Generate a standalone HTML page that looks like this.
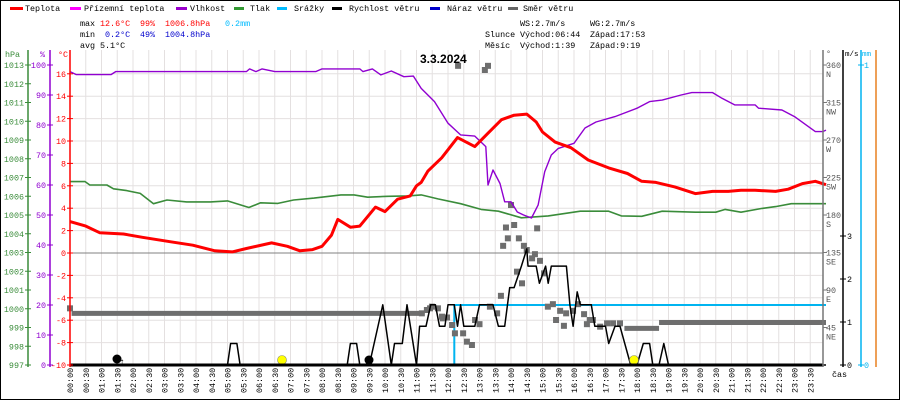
<!DOCTYPE html>
<html><head><meta charset="utf-8">
<style>
html,body{margin:0;padding:0;background:#fff;}
svg{display:block;font-family:"Liberation Mono",monospace;}
</style></head>
<body>
<svg id="chart" width="900" height="400" viewBox="0 0 900 400" xmlns="http://www.w3.org/2000/svg">
<rect x="0.5" y="0.5" width="899" height="399" fill="#fff" stroke="#000"/>
<g id="grid"></g>
<g id="series"></g>
<g id="axes"></g>
<g id="legend" font-size="8.4">
  <g><rect x="10" y="7" width="13" height="3" fill="#f00"/><text x="25" y="11">Teplota</text></g>
  <g><rect x="70" y="7" width="11" height="3" fill="#f0f"/><text x="84" y="11">Přízemní teplota</text></g>
  <g><rect x="176" y="7" width="11" height="3" fill="#90c"/><text x="190" y="11">Vlhkost</text></g>
  <g><rect x="234" y="7" width="10" height="3" fill="#393"/><text x="250" y="11">Tlak</text></g>
  <g><rect x="277" y="7" width="10" height="3" fill="#0bf"/><text x="294" y="11">Srážky</text></g>
  <g><rect x="332" y="7" width="10" height="3" fill="#000"/><text x="349" y="11">Rychlost větru</text></g>
  <g><rect x="430" y="7" width="10" height="3" fill="#00c"/><text x="447" y="11">Náraz větru</text></g>
  <g><rect x="508" y="7" width="10" height="3" fill="#666"/><text x="523" y="11">Směr větru</text></g>
</g>
<g id="stats" font-size="8.4">
  <text x="80" y="26">max</text><text x="100" y="26" fill="#f00">12.6°C</text><text x="140" y="26" fill="#f00">99%</text><text x="165" y="26" fill="#f00">1006.8hPa</text><text x="225" y="26" fill="#0bf">0.2mm</text>
  <text x="80" y="37">min</text><text x="105" y="37" fill="#00c">0.2°C</text><text x="140" y="37" fill="#00c">49%</text><text x="165" y="37" fill="#00c">1004.8hPa</text>
  <text x="80" y="48">avg</text><text x="100" y="48">5.1°C</text>
  <text x="520" y="26">WS:2.7m/s</text><text x="590" y="26">WG:2.7m/s</text>
  <text x="485" y="37">Slunce</text><text x="520" y="37">Východ:06:44</text><text x="590" y="37">Západ:17:53</text>
  <text x="485" y="48">Měsíc</text><text x="520" y="48">Východ:1:39</text><text x="590" y="48">Západ:9:19</text>
</g>
<text x="420" y="63" font-size="12" font-weight="bold" font-family="Liberation Sans, sans-serif">3.3.2024</text>
</svg>
<script>
// ---- data ----
const tempTimes=[0,0.5,0.95,1.7,2.3,3.2,3.9,4.6,5.15,5.6,6.4,6.9,7.3,7.7,8.0,8.3,8.5,8.9,9.2,9.7,10.0,10.4,10.8,11.0,11.15,11.36,11.8,12.3,12.85,13.27,13.7,14.1,14.5,14.8,15.0,15.4,15.9,16.45,17.1,17.7,18.15,18.6,19.2,19.85,20.4,20.9,21.3,21.75,22.4,22.8,23.25,23.66,24];
const tempValues=[2.8,2.4,1.8,1.7,1.4,1.0,0.7,0.2,0.1,0.4,0.9,0.6,0.2,0.3,0.6,1.6,3.0,2.3,2.4,4.1,3.7,4.8,5.1,6.0,6.3,7.3,8.5,10.3,9.5,10.7,11.9,12.3,12.4,11.7,10.8,9.9,9.4,8.3,7.6,7.1,6.4,6.3,5.9,5.3,5.5,5.5,5.6,5.6,5.5,5.7,6.2,6.4,6.1];
const humTimes=[0,0.2,1.3,1.45,5.6,5.7,5.9,6.1,6.5,7.8,8.0,9.2,9.3,9.6,9.87,10.2,10.6,10.9,11.15,11.57,12.0,12.4,12.85,13.2,13.27,13.43,13.65,13.8,14.0,14.2,14.4,14.65,14.86,15.07,15.28,15.5,16.0,16.35,16.7,17.3,18.0,18.4,18.8,19.4,19.74,20.4,20.7,21.1,21.75,21.86,22.6,23.0,23.45,23.66,23.9,24];
const humValues=[97.8,96.8,96.8,97.8,97.8,98.7,97.8,98.7,97.8,97.8,98.7,98.7,97.8,98.7,96.7,98,96.1,96.3,92.2,87.8,80.6,76.7,76.3,72.8,60,65,60.5,54.4,54.4,51,50,49,53.3,64.4,70,72.2,73.9,79,81,82.8,85.6,87.8,88.3,90,90.8,90.8,88.9,86.7,86.7,85.6,85,82.8,79.4,77.8,77.8,78.3];
const presTimes=[0,0.48,0.63,1.17,1.38,1.8,2.23,2.65,3.08,3.7,4.46,5.0,5.68,6.05,6.6,7.1,7.75,8.6,9.02,9.45,10.1,10.72,11.15,11.68,12.4,13.05,13.6,14.33,15.18,16.2,17.1,17.5,18.15,18.8,19.85,20.5,20.8,21.3,21.97,22.4,22.9,24];
const presValues=[1006.78,1006.78,1006.6,1006.6,1006.4,1006.3,1006.15,1005.6,1005.8,1005.7,1005.7,1005.75,1005.4,1005.65,1005.62,1005.8,1005.9,1006.07,1006.07,1005.95,1006.0,1006.02,1006.07,1005.86,1005.6,1005.3,1005.2,1004.85,1004.95,1005.2,1005.2,1004.95,1004.93,1005.2,1005.15,1005.15,1005.3,1005.15,1005.35,1005.45,1005.6,1005.6];
const rainTimes=[0,12.2,12.2,24];
const rainValues=[0,0,0.2,0.2];
const windTimes=[0,5.0,5.1,5.3,5.4,8.8,8.9,9.1,9.2,9.5,9.93,10.2,10.3,10.55,10.7,11.0,11.1,11.3,11.45,11.6,11.73,11.9,12.0,12.2,12.3,12.4,12.5,12.85,13.0,13.2,13.43,13.6,13.8,13.96,14.1,14.33,14.5,14.54,14.8,14.9,15.1,15.18,15.28,15.76,15.87,15.97,16.1,16.2,16.55,16.66,17.0,17.1,17.3,17.46,17.8,18.0,18.2,18.4,18.5,18.7,18.85,19.0,24];
const windValues=[0,0,0.5,0.5,0,0,0.5,0.5,0,0,1.4,0,0.5,0.5,1.4,0,0.9,0.9,1.4,1.4,0.9,0.9,1.4,1.4,0.9,1.4,0.9,0.9,1.4,1.4,1.4,0.9,0.9,1.8,1.8,2.3,2.7,2.3,2.3,1.9,2.3,1.9,2.3,2.3,1.4,0.9,1.7,1.4,1.4,0.9,0.9,0.5,0.9,0.9,0,0,0.5,0.5,0,0,0.5,0,0];
// wind direction: continuous runs with degrees
const dirRunStarts=[0.05,17.6,18.7];
const dirRunEnds=[11.1,18.7,24];
const dirRunValues=[62,44,51];
// wind direction scattered samples
const dirTimes=[0,11.17,11.33,11.43,11.49,11.68,11.81,11.84,11.97,12.13,12.22,12.32,12.48,12.6,12.76,12.86,13.0,13.17,13.27,13.33,13.56,13.68,13.75,13.84,13.9,14.0,14.1,14.19,14.25,14.35,14.41,14.5,14.67,14.76,14.83,14.92,15.05,15.17,15.33,15.43,15.56,15.68,15.75,15.97,16.13,16.32,16.41,16.5,16.6,16.83,17.05,17.24,17.46];
const dirValues=[68,62,66,68,70,68,58,56,57,48,38,359,38,28,24,54,49,354,359,70,62,83,143,165,152,192,168,112,152,98,143,138,128,133,164,125,110,70,73,54,65,47,62,65,73,61,49,54,54,46,50,50,50];
// ---- scales ----
const X0=70, PXH=31.5, XR=823;
const xT=t=>X0+t*PXH;
const yTemp=v=>253-v*11.2;
const yHum=v=>365-v*3;
const yPres=v=>365-(v-997)*18.75;
const yDir=v=>365-v*300/360;
const yWind=v=>365-v*43;
const yRain=v=>365-v*300;
const NS='http://www.w3.org/2000/svg';
function mk(tag,attrs,parent){const e=document.createElementNS(NS,tag);for(const k in attrs)e.setAttribute(k,attrs[k]);parent.appendChild(e);return e;}
const grid=document.getElementById('grid'),series=document.getElementById('series'),axes=document.getElementById('axes');
for(let i=0;i<=48;i++){const x=xT(i/2);if(x>XR)break;mk('line',{x1:x,y1:50,x2:x,y2:365,stroke:'#e4e0e0','stroke-width':1},grid);}
for(let v=-10;v<=16;v+=2){const y=yTemp(v);mk('line',{x1:X0,y1:y,x2:XR,y2:y,stroke:v===0?'#808080':'#e4e0e0','stroke-width':1},grid);}
function poly(ts,vs,yf,color,w,name){const p=ts.map((t,i)=>xT(t).toFixed(1)+','+yf(vs[i]).toFixed(1)).join(' ');const e=mk('polyline',{points:p,fill:'none',stroke:color,'stroke-width':w,'stroke-linejoin':'round'},series);

return e;}
poly(rainTimes,rainValues,yRain,'#00b4f0',2,'rain-line');
for(let i=0;i<dirRunStarts.length;i++){const e=mk('line',{x1:xT(dirRunStarts[i]),x2:Math.min(XR+6,xT(dirRunEnds[i])),y1:yDir(dirRunValues[i]),y2:yDir(dirRunValues[i]),stroke:'#6e6e6e','stroke-width':5},series);

}
for(let i=0;i<dirTimes.length;i++){const e=mk('rect',{x:xT(dirTimes[i])-3,y:yDir(dirValues[i])-3,width:6,height:6,fill:'#6e6e6e'},series);

}
poly(presTimes,presValues,yPres,'#3a8c3a',1.6,'pressure-line');
poly(humTimes,humValues,yHum,'#9000d0',1.4,'humidity-line');
poly(tempTimes,tempValues,yTemp,'#f00',3,'temperature-line');
poly(windTimes,windValues,yWind,'#000',1.5,'wind-speed-line');
mk('line',{x1:X0,y1:365,x2:XR,y2:365,stroke:'#000','stroke-width':3},axes);
mk('circle',{cx:117,cy:359,r:4.5,fill:'#000'},series);
mk('text',{x:119,y:365,'font-size':10},series).textContent='↑';
mk('circle',{cx:282,cy:360,r:4.5,fill:'#ff0',stroke:'#886','stroke-width':0.6},series);
mk('circle',{cx:369,cy:360,r:4.5,fill:'#000'},series);
mk('circle',{cx:634,cy:360,r:4.5,fill:'#ff0',stroke:'#886','stroke-width':0.6},series);
function axisLine(x,y1,y2,color){mk('line',{x1:x,y1:y1,x2:x,y2:y2,stroke:color,'stroke-width':1.5},axes);}
axisLine(28,50,367,'#3a8c3a');axisLine(50,50,367,'#9000d0');axisLine(70,50,367,'#f00');
function txt(x,y,s,color,anchor,size){const e=mk('text',{x:x,y:y,fill:color,'font-size':size||8.4,'text-anchor':anchor||'start'},axes);e.textContent=s;return e;}
txt(5,57,'hPa','#3a8c3a');txt(40,57,'%','#9000d0');txt(58,57,'°C','#f00');
for(let v=997;v<=1013;v++){const y=yPres(v);mk('line',{x1:25,x2:31,y1:y,y2:y,stroke:'#3a8c3a'},axes);txt(24,y+3,String(v),'#3a8c3a','end');}
for(let v=0;v<=100;v+=10){const y=yHum(v);mk('line',{x1:47,x2:53,y1:y,y2:y,stroke:'#9000d0'},axes);txt(46,y+3,String(v),'#9000d0','end');}
for(let v=-10;v<=16;v+=2){const y=yTemp(v);mk('line',{x1:67,x2:73,y1:y,y2:y,stroke:'#f00'},axes);txt(66,y+3,String(v),'#f00','end');}
axisLine(XR,50,367,'#777');axisLine(843,50,367,'#000');axisLine(861,50,367,'#00b4f0');axisLine(876,50,367,'#e88020');
txt(826,56,'°','#555');txt(845,56,'m/s','#000',null,7.5);txt(862,56,'mm','#00b4f0',null,7.5);
const dirTicks=[0,45,90,135,180,225,270,315,360];const dirNames=['','NE','E','SE','S','SW','W','NW','N'];
for(let i=1;i<dirTicks.length;i++){const y=yDir(dirTicks[i]);mk('line',{x1:XR,x2:XR+4,y1:y,y2:y,stroke:'#777'},axes);txt(826,y+3,String(dirTicks[i]),'#555');txt(826,y+12,dirNames[i],'#555');}
for(let v=0;v<=3;v++){const y=yWind(v);mk('line',{x1:840,x2:846,y1:y,y2:y,stroke:'#000'},axes);txt(847,y+3,String(v),'#000');}
for(let v=0;v<=1;v++){const y=yRain(v);mk('line',{x1:858,x2:864,y1:y,y2:y,stroke:'#00b4f0'},axes);txt(864,y+3,String(v),'#00b4f0');}
txt(832,377,'čas','#000');
for(let i=0;i<48;i++){const x=xT(i/2);const h=Math.floor(i/2),m=i%2?'30':'00';const s=(h<10?'0':'')+h+':'+m;
const e=mk('text',{x:0,y:0,'font-size':8.4,transform:'translate('+(x+3)+',393) rotate(-90)'},axes);e.textContent=s;

}
</script>
</body></html>
